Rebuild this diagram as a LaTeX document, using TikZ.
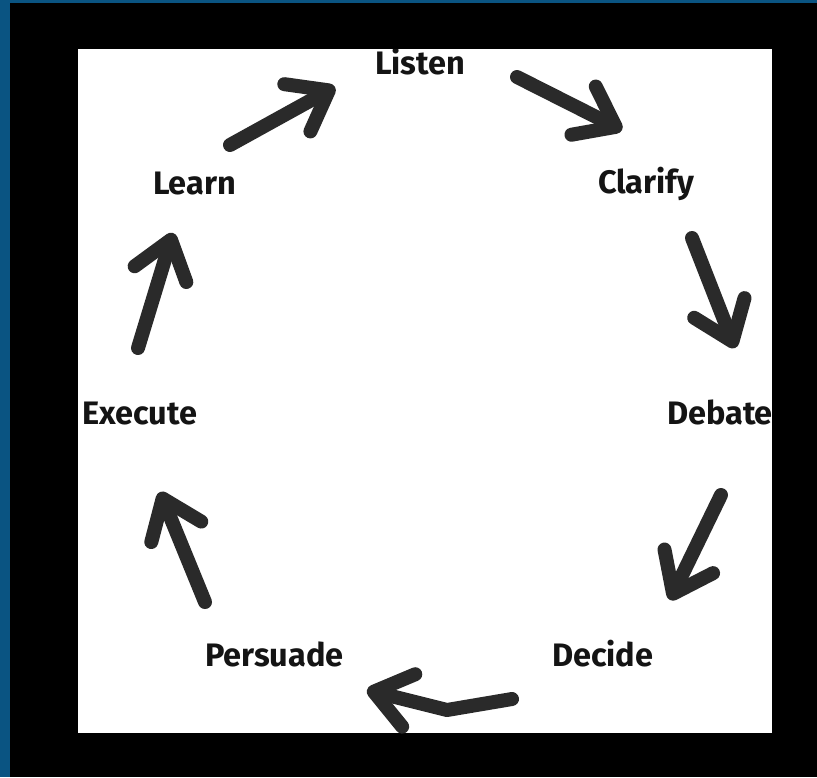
\documentclass[tikz,border=0pt]{standalone}
\usepackage{fontspec}
\setmainfont{Fira Sans}
\usepackage{tikz}
\usetikzlibrary{arrows.meta,positioning}
\definecolor{edgeblue}{RGB}{10,84,130}
\definecolor{ink}{RGB}{42,42,42}
\tikzstyle{stage}=[
  font={\fontsize{32.5}{40}\selectfont\bfseries},
  text=black!92,
  inner sep=0pt,
  outer sep=0pt,
  anchor=base west,
]
\tikzstyle{handarrow}=[
  draw=ink,
  line width=14pt,
  line cap=round,
  line join=round,
  -{Straight Barb[length=36pt,width=54pt,round]},
]
\tikzset{
  x=1pt,
  y=-1pt,
}

\begin{document}
\begin{tikzpicture}
      \useasboundingbox (0,0) rectangle (817,777);
      %% frame
      \fill [black] (0,0) rectangle (817,777);
      \fill [edgeblue] (0,0) rectangle (10,777);
      \fill [edgeblue] (0,0) rectangle (817,3);
      \fill [white] (78,49) rectangle (772,733);
      \begin{scope}
      \clip (78,49) rectangle (772,733);
      %% stages
      \node (listen) [stage] at (375,74) {Listen};
      \node (clarify) [stage] at (598,193) {Clarify};
      \node (debate) [stage] at (667,424) {Debate};
      \node (decide) [stage] at (552,666) {Decide};
      \node (persuade) [stage] at (205,666) {Persuade};
      \node (execute) [stage] at (82,424) {Execute};
      \node (learn) [stage] at (153,194) {Learn};
      %%
      \coordinate (learnout) at (230,145);
      \coordinate (listenin) at (335,87);
      \coordinate (listenout) at (517,77);
      \coordinate (clarifyin) at (622,130);
      \coordinate (clarifyout) at (692,238);
      \coordinate (debatein) at (735,348);
      \coordinate (debateout) at (721,495);
      \coordinate (decidein) at (670,600);
      \coordinate (decideout) at (512,699);
      \coordinate (bend) at (447,710);
      \coordinate (persuadein) at (367,690);
      \coordinate (persuadeout) at (205,602);
      \coordinate (executein) at (160,492);
      \coordinate (executeout) at (138,348);
      \coordinate (learnin) at (173,233);
      %%
      \draw [handarrow] (learnout) -- (listenin);
      \draw [handarrow] (listenout) -- (clarifyin);
      \draw [handarrow] (clarifyout) -- (debatein);
      \draw [handarrow] (debateout) -- (decidein);
      \draw [handarrow] (decideout) -- (bend) -- (persuadein);
      \draw [handarrow] (persuadeout) -- (executein);
      \draw [handarrow] (executeout) -- (learnin);
      \end{scope}
    \end{tikzpicture}
\end{document}
